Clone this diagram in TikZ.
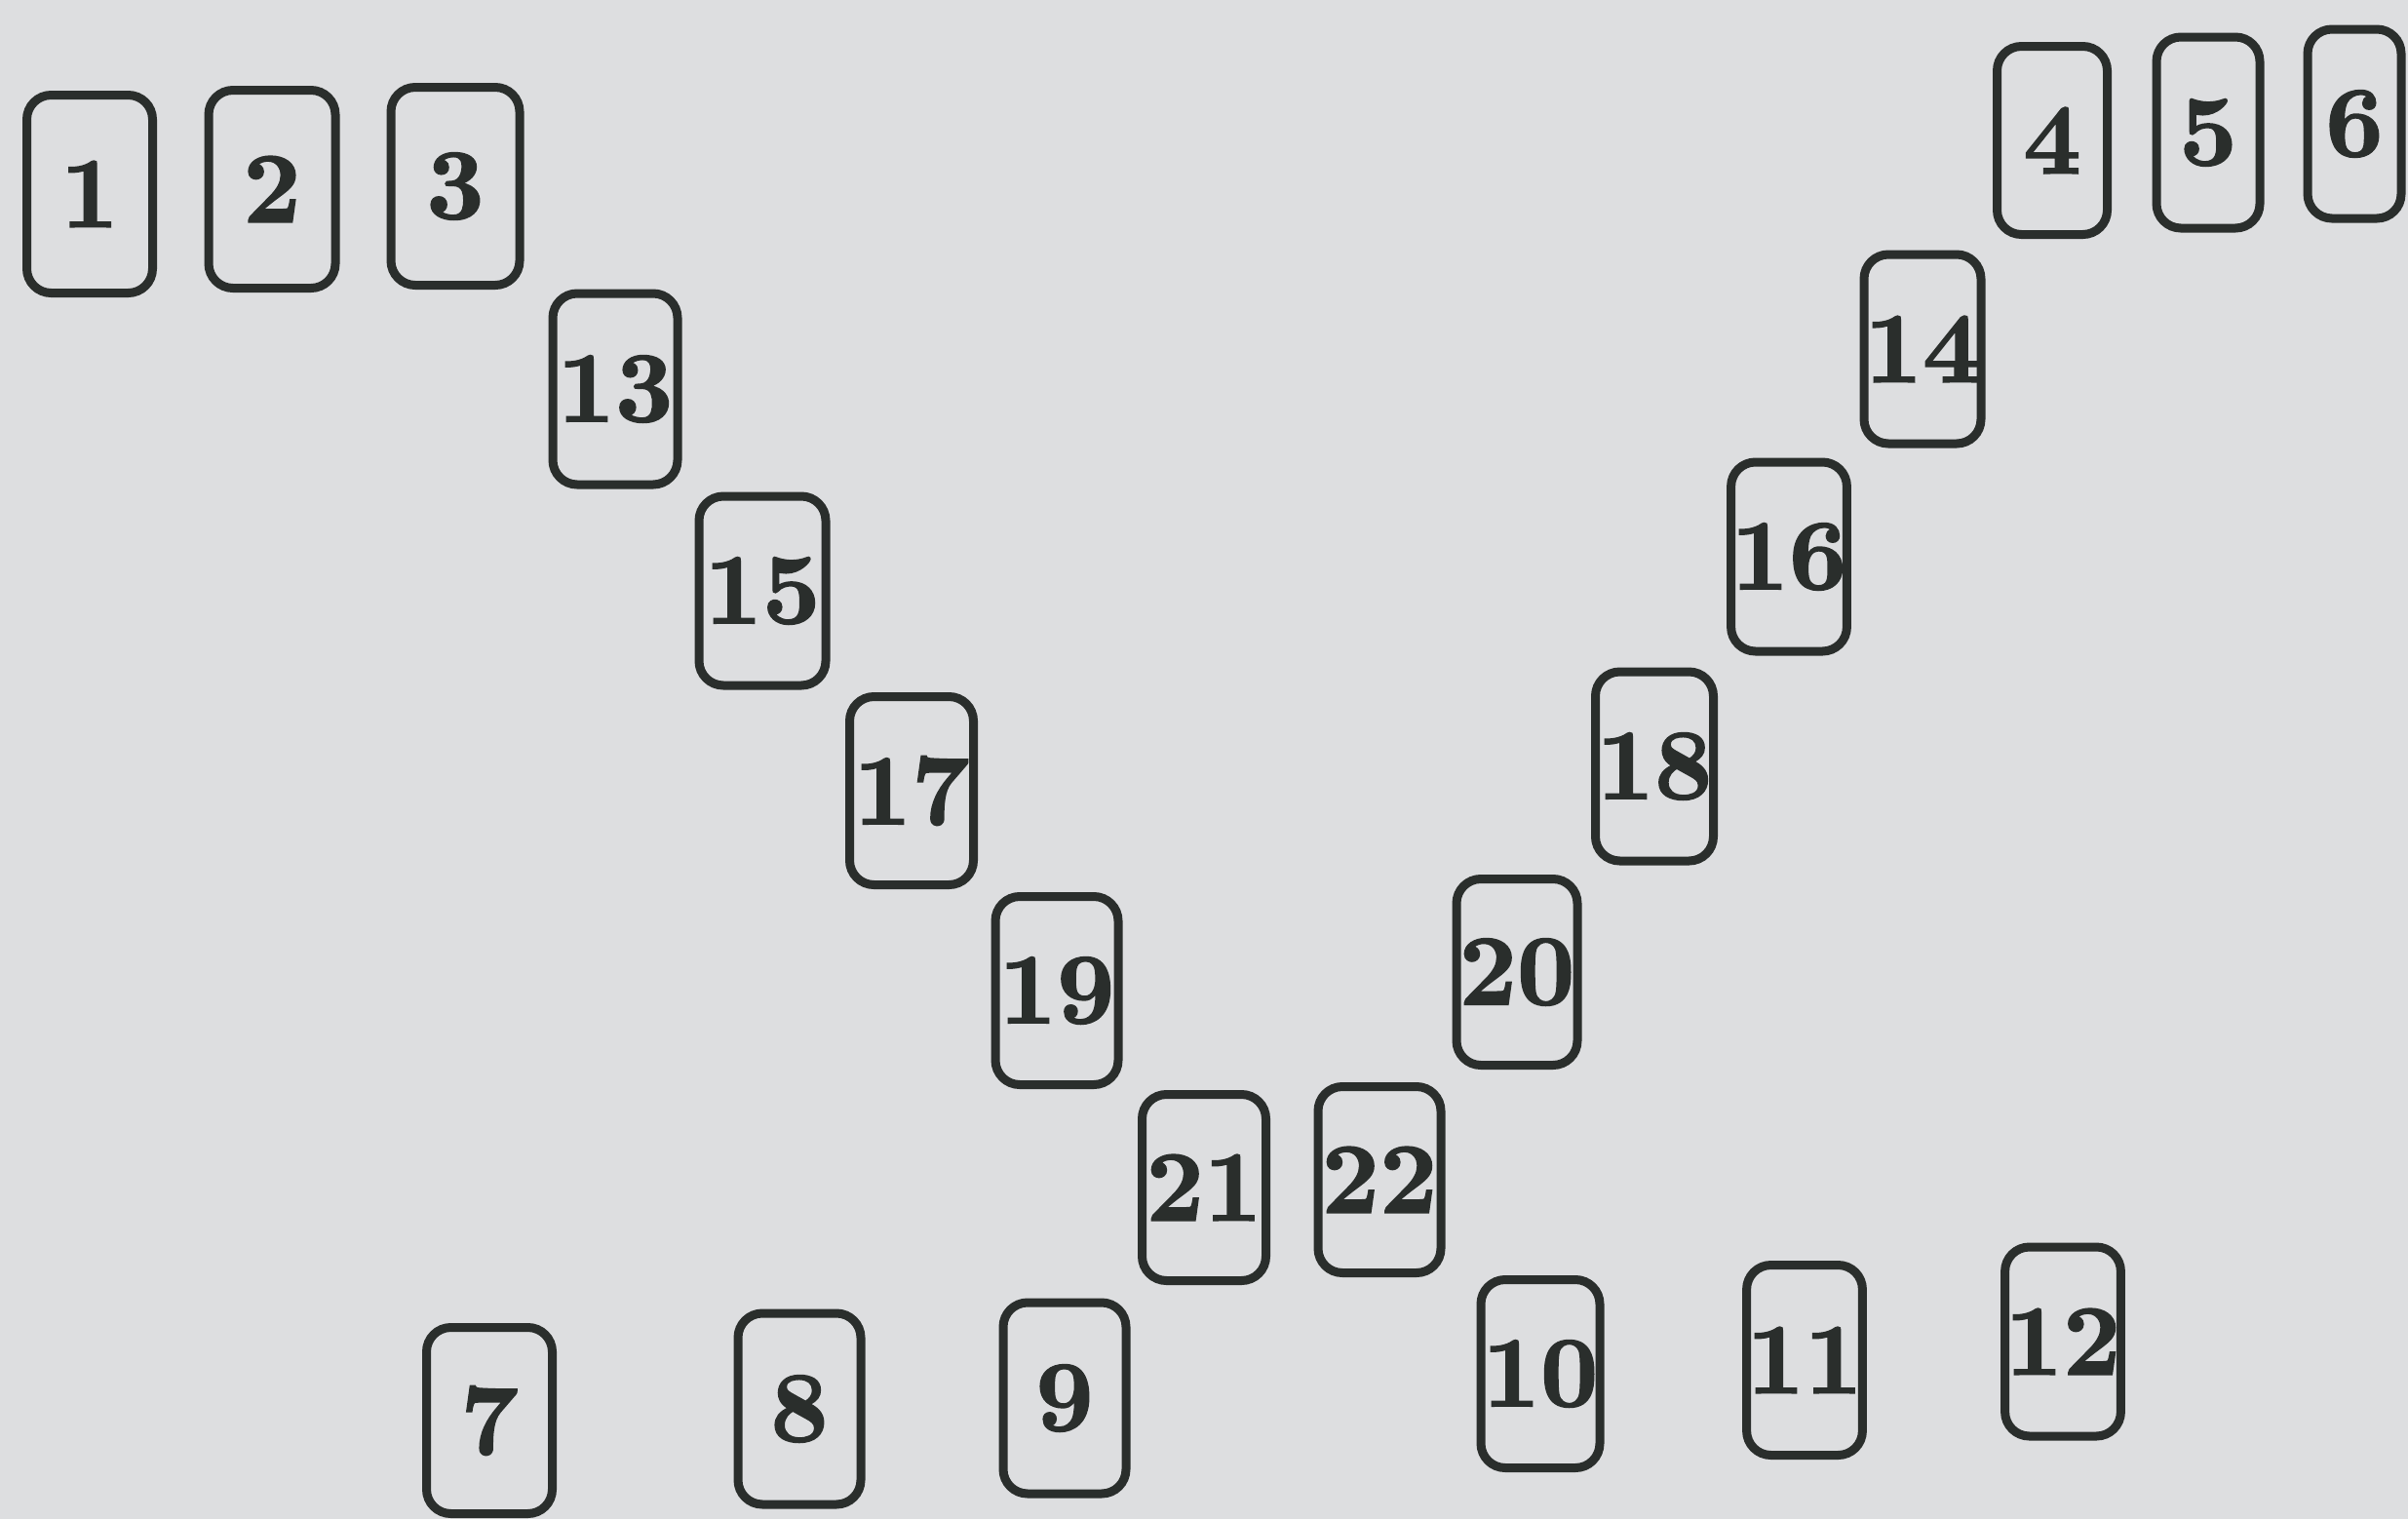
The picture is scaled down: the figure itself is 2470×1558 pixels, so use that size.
\documentclass[tikz,border=0pt]{standalone}
\usepackage{fontspec}
\newfontfamily\numfont{lmroman10-bold.otf}[FakeBold=1.6]
\definecolor{paper}{RGB}{221,222,224}
\definecolor{ink}{RGB}{42,46,44}
\tikzset{
  card/.style 2 args={draw=ink, text=ink, line width=2.7pt, rounded corners=7.5pt,
    rectangle, inner sep=0pt, minimum width={(#1-9)*0.3pt}, minimum height={(#2-9)*0.3pt},
    font=\numfont\fontsize{31}{31}\selectfont}
}
\begin{document}
\begin{tikzpicture}[x=0.3pt,y=-0.3pt]
\fill[paper] (0,0) rectangle (2470,1558);
\useasboundingbox (0,0) rectangle (2470,1558);
\node[card={138}{212}] (n1) at (92,199) {1};
\node[card={139}{212}] (n2) at (279,194) {2};
\node[card={141}{212}] (n3) at (467,191) {3};
\node[card={122}{202}] (n4) at (2105,144) {4};
\node[card={115}{205}] (n5) at (2265,136) {5};
\node[card={105}{203}] (n6) at (2415,127) {6};
\node[card={138}{200}] (n7) at (502,1457) {7};
\node[card={135}{205}] (n8) at (820,1445) {8};
\node[card={135}{205}] (n9) at (1092,1434) {9};
\node[card={131}{202}] (n10) at (1580,1409) {10};
\node[card={126}{204}] (n11) at (1851,1395) {11};
\node[card={124}{203}] (n12) at (2116,1376) {12};
\node[card={137}{205}] (n13) at (631,399) {13};
\node[card={129}{203}] (n14) at (1972,358) {14};
\node[card={139}{203}] (n15) at (782,606) {15};
\node[card={125}{203}] (n16) at (1835,571) {16};
\node[card={136}{202}] (n17) at (935,811) {17};
\node[card={130}{203}] (n18) at (1697,786) {18};
\node[card={135}{202}] (n19) at (1084,1016) {19};
\node[card={133}{200}] (n20) at (1556,997) {20};
\node[card={136}{200}] (n21) at (1235,1218) {21};
\node[card={135}{200}] (n22) at (1415,1210) {22};
\end{tikzpicture}
\end{document}
